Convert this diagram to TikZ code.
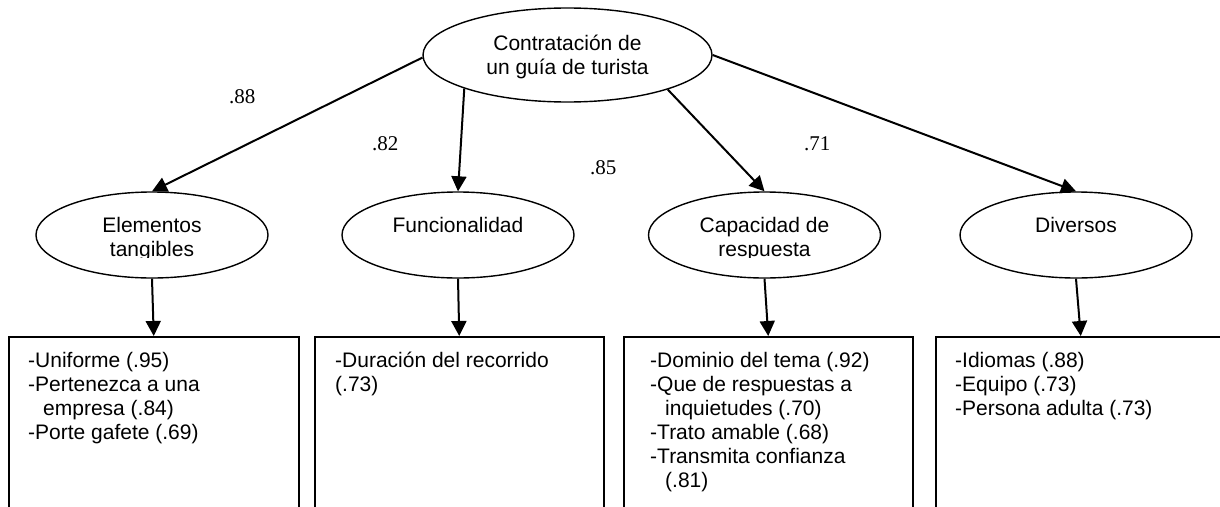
\documentclass[tikz,border=0pt]{standalone}
\usepackage{fontspec}
\setmainfont{Liberation Sans}
\newfontfamily\coeffont{Liberation Serif}
\usetikzlibrary{arrows.meta,shapes.geometric}
\begin{document}
\begin{tikzpicture}[x=1pt,y=-1pt,
  oval/.style={draw, ellipse, line width=1.4pt, inner sep=0pt},
  itembox/.style={draw, rectangle, line width=1.5pt, inner sep=0pt, anchor=north west, minimum height=200pt},
  arr/.style={line width=2pt, -{Triangle[length=15pt,width=15pt]}},
  txt/.style={inner sep=0pt, font=\fontsize{21}{24}\selectfont},
  coef/.style={inner sep=0pt, anchor=base west, font=\coeffont\fontsize{21}{24}\selectfont}]
\useasboundingbox (0,0) rectangle (1220,506);
\clip (0,0) rectangle (1220,506);
\fill[white] (0,0) rectangle (1220,506);

% top factor
\node[oval, minimum width=289pt, minimum height=94pt] (top) at (567.5,55) {};
\node[txt, anchor=base] (topT) at (567.5,50) {\parbox[t]{260pt}{\centering Contratación de\\un guía de turista}};

% second level
\node[oval, minimum width=232pt, minimum height=86pt] (el) at (152,235) {};
\node[oval, minimum width=232pt, minimum height=86pt] (fu) at (458,235) {};
\node[oval, minimum width=232pt, minimum height=86pt] (ca) at (764.5,235) {};
\node[oval, minimum width=232pt, minimum height=86pt] (di) at (1076,235) {};

\begin{scope}
\clip (0,190) rectangle (1220,257.3);
\node[txt, anchor=base] (elT) at (152,232.5) {\parbox[t]{220pt}{\centering Elementos\\tangibles}};
\node[txt, anchor=base] (fuT) at (458,232.5) {\parbox[t]{220pt}{\centering Funcionalidad}};
\node[txt, anchor=base] (caT) at (764.5,232.5) {\parbox[t]{220pt}{\centering Capacidad de\hspace*{11pt}\\respuesta}};
\node[txt, anchor=base] (diT) at (1076,232.5) {\parbox[t]{220pt}{\centering Diversos}};
\end{scope}

% boxes
\node[itembox, minimum width=290pt] (b1) at (8,336) {};
\node[itembox, minimum width=289pt] (b2) at (314,336) {};
\node[itembox, minimum width=289pt] (b3) at (623,336) {};
\node[itembox, minimum width=290pt] (b4) at (935,336) {};

\node[txt, anchor=base west] (b1T) at (28,367.5) {\parbox[t]{260pt}{\raggedright -Uniforme (.95)\\-Pertenezca a una\\\hspace*{15pt}empresa (.84)\\-Porte gafete (.69)}};
\node[txt, anchor=base west] (b2T) at (335,367.5) {\parbox[t]{260pt}{\raggedright -Duración del recorrido\\(.73)}};
\node[txt, anchor=base west] (b3T) at (650,367.5) {\parbox[t]{260pt}{\raggedright -Dominio del tema (.92)\\-Que de respuestas a\\\hspace*{15pt}inquietudes (.70)\\-Trato amable (.68)\\-Transmita confianza\\\hspace*{15pt}(.81)}};
\node[txt, anchor=base west] (b4T) at (955,367.5) {\parbox[t]{260pt}{\raggedright -Idiomas (.88)\\-Equipo (.73)\\-Persona adulta (.73)}};

% arrows
\draw[arr] (top.181) -- (el.north);
\draw[arr] (top.198.5) -- (fu.north);
\draw[arr] (top.341.5) -- (ca.north);
\draw[arr] (top.east) -- (di.north);

\draw[arr] (el.south) -- (b1.north);
\draw[arr] (fu.south) -- (b2.north);
\draw[arr] (ca.south) -- (b3.north);
\draw[arr] (di.south) -- (b4.north);

% coefficients
\node[coef] (c88) at (229,103) {.88};
\node[coef] (c82) at (372,150.7) {.82};
\node[coef] (c85) at (590,174.3) {.85};
\node[coef] (c71) at (804,150.7) {.71};
\end{tikzpicture}
\end{document}
